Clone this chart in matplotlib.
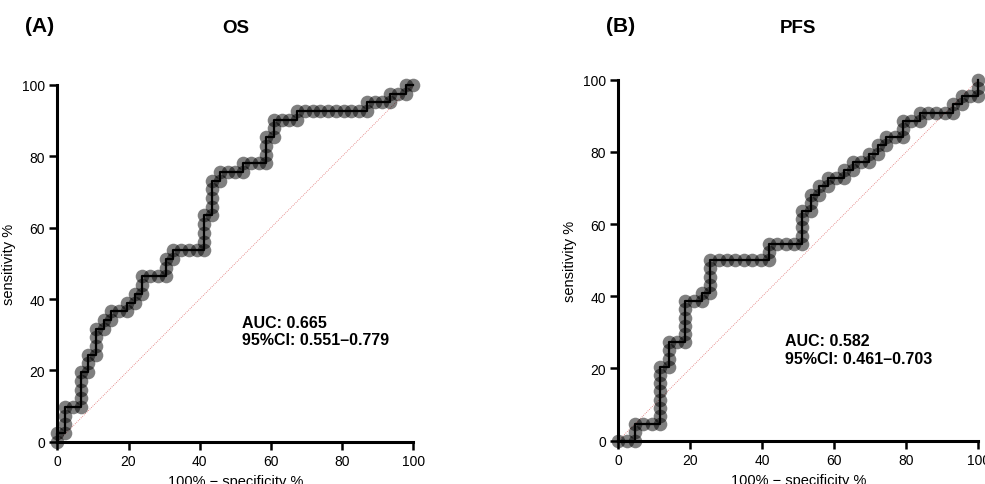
import numpy as np
import matplotlib
matplotlib.use('Agg')
import matplotlib.pyplot as plt

plt.rcParams['font.family'] = ['Liberation Sans', 'DejaVu Sans']

# ROC steps: false positives / true positives (counts)
os_neg, os_pos = 46, 41
os_fp = [0,0,1,1,1,1,2,3,3,3,3,3,4,4,4,5,5,5,5,6,6,7,7,8,9,9,10,10,11,11,11,12,13,14,14,14,
         15,15,16,17,18,19,19,19,19,19,20,20,20,20,20,21,21,22,23,24,24,25,26,27,27,27,27,
         28,28,28,29,30,31,31,32,33,34,35,36,37,38,39,40,40,41,42,43,43,44,45,45,46]
os_tp = [0,1,1,2,3,4,4,4,5,6,7,8,8,9,10,10,11,12,13,13,14,14,15,15,15,16,16,17,17,18,19,19,
         19,19,20,21,21,22,22,22,22,22,23,24,25,26,26,27,28,29,30,30,31,31,31,31,32,32,32,32,
         33,34,35,35,36,37,37,37,37,38,38,38,38,38,38,38,38,38,38,39,39,39,39,40,40,40,41,41]

pfs_neg, pfs_pos = 43, 44
pfs_fp = [0,1,2,2,2,3,4,5,5,5,5,5,5,5,5,6,6,6,6,7,8,8,8,8,8,8,9,10,10,11,11,11,11,11,12,13,
          14,15,16,17,18,18,18,19,20,21,22,22,22,22,22,23,23,23,24,24,25,25,26,27,27,28,28,
          29,30,30,31,31,32,32,33,34,34,34,35,36,36,37,38,39,40,40,41,41,42,43,43,43]
pfs_tp = [0,0,0,1,2,2,2,2,3,4,5,6,7,8,9,9,10,11,12,12,12,13,14,15,16,17,17,17,18,18,19,20,
          21,22,22,22,22,22,22,22,22,23,24,24,24,24,24,25,26,27,28,28,29,30,30,31,31,32,32,
          32,33,33,34,34,34,35,35,36,36,37,37,37,38,39,39,39,40,40,40,40,40,41,41,42,42,42,43,44]

panels = [
    dict(tag='(A)', title='OS', fp=os_fp, tp=os_tp, neg=os_neg, pos=os_pos,
         auc='AUC: 0.665', ci='95%CI: 0.551–0.779', txt=(52, 31),
         rect=[0.0582, 0.0872, 0.3614, 0.7355], tagx=0.040),
    dict(tag='(B)', title='PFS', fp=pfs_fp, tp=pfs_tp, neg=pfs_neg, pos=pfs_pos,
         auc='AUC: 0.582', ci='95%CI: 0.461–0.703', txt=(46.3, 25.3),
         rect=[0.6277, 0.0893, 0.3655, 0.7443], tagx=0.630),
]

fig = plt.figure(figsize=(9.85, 4.85), dpi=100)

for p in panels:
    ax = fig.add_axes(p['rect'])
    x = np.array(p['fp']) / p['neg'] * 100
    y = np.array(p['tp']) / p['pos'] * 100
    ax.plot([0, 100], [0, 100], color='#e07070', lw=0.6, ls=(0, (1, 1.5)), zorder=1)
    ax.plot(x, y, ls='none', marker='o', ms=9.8, mfc=(0, 0, 0, 0.5), mec='none',
            clip_on=False, zorder=2)
    ax.plot(x, y, color='black', lw=1.6, clip_on=False, zorder=3)
    ax.set_xlim(0, 100)
    ax.set_ylim(0, 100)
    ax.set_xticks(range(0, 101, 20))
    ax.set_yticks(range(0, 101, 20))
    for s in ['top', 'right']:
        ax.spines[s].set_visible(False)
    for s in ['left', 'bottom']:
        ax.spines[s].set_linewidth(2.2)
    ax.tick_params(width=1.8, length=6, labelsize=10, pad=3)
    ax.set_xlabel('100% − specificity %', fontsize=10.5, labelpad=4)
    ax.set_ylabel('sensitivity %', fontsize=10.5, labelpad=4)
    ax.text(p['txt'][0], p['txt'][1], p['auc'] + '\n' + p['ci'], fontsize=11.5,
            fontweight='bold', va='center', ha='left', linespacing=1.2)
    cx = p['rect'][0] + p['rect'][2] / 2
    fig.text(cx, 0.942, p['title'], fontsize=13.5, fontweight='bold', ha='center', va='center')
    fig.text(p['tagx'], 0.946, p['tag'], fontsize=15, fontweight='bold', ha='center', va='center')

fig.savefig('out.png', dpi=100)
